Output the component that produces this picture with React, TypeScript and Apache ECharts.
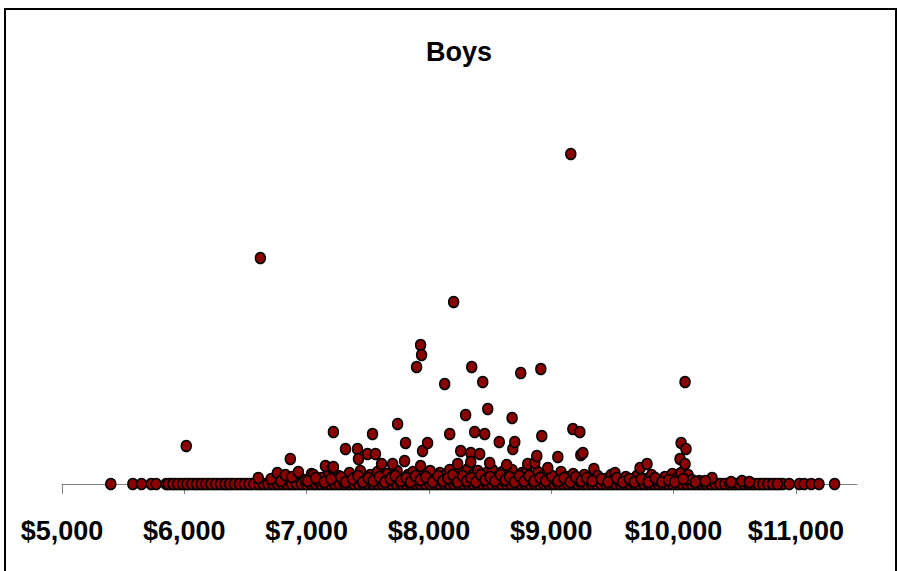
import React, { useEffect, useRef } from "react";
import * as echarts from "echarts";

const title = "Boys";
const xTicks = [5000, 6000, 7000, 8000, 9000, 10000, 11000];

// Points lying on the baseline (value 0)
const baselineX = [
  5399, 5579, 5650, 5729, 5770, 5852, 5890, 5925, 5968, 6004, 6041, 6083, 6120, 6158, 6196, 6240,
  6275, 6318, 6352, 6390, 6433, 6470, 6512, 6548, 6590, 6627, 6665, 6704, 6745, 6782, 6820, 6861,
  6898, 6940, 6977, 7015, 7056, 7093, 7135, 7172, 7210, 7250, 7288, 7330, 7366, 7405, 7445, 7483,
  7522, 7560, 7601, 7640, 7677, 7718, 7755, 7796, 7834, 7873, 7912, 7950, 7990, 8028, 8068, 8105,
  8146, 8184, 8223, 8262, 8300, 8340, 8378, 8418, 8456, 8495, 8535, 8573, 8612, 8650, 8690, 8728,
  8767, 8806, 8845, 8884, 8922, 8962, 9000, 9040, 9078, 9117, 9156, 9195, 9234, 9272, 9312, 9350,
  9390, 9428, 9467, 9506, 9545, 9584, 9622, 9662, 9700, 9740, 9778, 9817, 9856, 9895, 9934, 9972,
  10012, 10050, 10090, 10128, 10168, 10206, 10245, 10284, 10322, 10362, 10400, 10440, 10478, 10517,
  10556, 10595, 10634, 10672, 10712, 10750, 10790, 10830, 10868, 10894, 10946, 11028, 11069, 11126,
  11189, 11317,
];

// More baseline points filling the dense band
const baselineX2 = [
  5870, 5908, 5946, 5986, 6022, 6062, 6101, 6139, 6177, 6218, 6257, 6296, 6335, 6371, 6411, 6451,
  6491, 6530, 6569, 6608, 6646, 6685, 6724, 6763, 6801, 6840, 6879, 6918, 6958, 6996, 7035, 7074,
  7114, 7153, 7191, 7230, 7269, 7309, 7348, 7386, 7425, 7464, 7503, 7541, 7580, 7620, 7658, 7697,
  7736, 7775, 7815, 7853, 7892, 7931, 7970, 8009, 8048, 8086, 8125, 8165, 8203, 8242, 8281, 8320,
  8359, 8398, 8437, 8475, 8515, 8554, 8592, 8631, 8670, 8709, 8747, 8786, 8825, 8864, 8903, 8942,
  8981, 9020, 9059, 9097, 9136, 9175, 9214, 9253, 9291, 9331, 9370, 9409, 9447, 9486, 9525, 9564,
  9603, 9642, 9681, 9720, 9759, 9797, 9836, 9875, 9914, 9953, 9992, 10031, 10070, 10109, 10148,
  10187, 10226, 10264, 10303, 10342, 10381, 10420, 10459, 10497, 10536, 10575, 10614, 10653, 10692,
  10731, 10770, 10810, 10849,
];

// Points just above the baseline
const lowPoints: [number, number][] = [
  [6605, 6], [6710, 5], [6761, 11], [6790, 3], [6826, 9], [6880, 7], [6933, 12], [6990, 4],
  [7040, 10], [7056, 9], [7088, 4], [7120, 6], [7180, 12], [7260, 8], [7300, 4], [7350, 11],
  [7390, 6], [7440, 13], [7470, 3], [7520, 9], [7580, 12], [7620, 5], [7660, 10], [7700, 7],
  [7740, 13], [7790, 4], [7830, 9], [7870, 12], [7905, 6], [7960, 10], [8010, 13], [8050, 5],
  [8090, 11], [8130, 8], [8170, 14], [8210, 4], [8250, 12], [8290, 7], [8320, 15], [8360, 9],
  [8400, 13], [8440, 5], [8470, 11], [8520, 14], [8560, 7], [8600, 12], [8640, 9], [8680, 14],
  [8720, 5], [8760, 11], [8800, 13], [8840, 6], [8890, 12], [8930, 8], [8980, 10], [9030, 5],
  [9080, 12], [9130, 7], [9180, 10], [9220, 4], [9270, 9], [9310, 6], [9349, 15], [9380, 8],
  [9440, 5], [9490, 9], [9521, 11], [9560, 4], [9610, 7], [9660, 3], [9700, 8], [9760, 5],
  [9820, 9], [9870, 4], [9930, 7], [9990, 10], [10030, 6], [10061, 11], [10119, 9], [10150, 4],
  [10210, 3], [10315, 6], [10471, 2], [10560, 3], [10620, 2],
  [7010, 3], [7075, 6], [7145, 2], [7200, 5], [7280, 7], [7320, 2], [7375, 5], [7420, 8],
  [7460, 2], [7505, 6], [7545, 3], [7595, 7], [7640, 2], [7685, 5], [7725, 8], [7770, 3],
  [7815, 6], [7850, 2], [7890, 8], [7930, 4], [7975, 7], [8030, 2], [8075, 8], [8115, 3],
  [8155, 6], [8195, 9], [8235, 2], [8275, 8], [8310, 3], [8345, 6], [8385, 2], [8425, 9],
  [8460, 4], [8500, 7], [8540, 3], [8585, 9], [8625, 4], [8660, 7], [8700, 2], [8740, 8],
  [8780, 3], [8820, 8], [8860, 3], [8910, 6], [8955, 3], [9005, 8], [9055, 3], [9105, 6],
  [9155, 2], [9200, 7], [9245, 3], [9290, 6], [9335, 3], [9410, 5], [9465, 2], [9535, 6],
  [9585, 2], [9640, 5], [9680, 2], [9735, 5], [9795, 2], [9850, 6], [9905, 2], [9960, 4],
  [10010, 2], [10080, 5], [10180, 2], [10260, 3],
];

// Points higher up
const highPoints: [number, number][] = [
  [6016, 38], [6867, 25], [7154, 18], [7211, 16], [7219, 52], [7219, 17], [7318, 35], [7416, 35],
  [7424, 25], [7498, 30], [7539, 50], [7563, 30], [7613, 20], [7703, 20], [7744, 60], [7801, 23],
  [7809, 41], [7932, 18], [7948, 33], [7989, 41], [8170, 50], [8235, 20], [8260, 33], [8300, 69],
  [8342, 31], [8342, 22], [8374, 52], [8415, 30], [8456, 50], [8481, 75], [8497, 21], [8575, 42],
  [8636, 19], [8680, 66], [8686, 35], [8702, 42], [8808, 20], [8866, 21], [8882, 28], [8923, 48],
  [8972, 16], [9054, 27], [9177, 55], [9234, 52], [9242, 29], [9259, 31], [9726, 16], [9783, 20],
  [10053, 25], [10062, 41], [10094, 20], [10102, 35],
  [7899, 117], [7932, 139], [7940, 129], [8129, 100], [8202, 182], [8350, 117], [8440, 102],
  [8751, 111], [8915, 115], [9160, 330], [6622, 226], [10094, 102],
];

export default function App() {
  const ref = useRef<HTMLDivElement>(null);
  useEffect(() => {
    if (!ref.current) return;
    const chart = echarts.init(ref.current, undefined, { renderer: "svg" });
    const data: [number, number][] = [
      ...baselineX.map((x) => [x, 0] as [number, number]),
      ...baselineX2.map((x) => [x, 0] as [number, number]),
      ...lowPoints,
      ...highPoints,
    ];
    chart.setOption({
      animation: false,
      grid: { left: 62, right: 42, top: 84, bottom: 87, containLabel: false },
      xAxis: {
        type: "value",
        min: 5000,
        max: 11500,
        interval: 1000,
        splitLine: { show: false },
        axisLine: { show: true, onZero: false, lineStyle: { color: "#808080", width: 1 } },
        axisTick: {
          show: true,
          length: 10,
          customValues: xTicks,
          lineStyle: { color: "#808080", width: 1 },
        },
        axisLabel: {
          customValues: xTicks,
          margin: 33,
          color: "#000",
          fontSize: 27,
          fontWeight: "bold",
          fontFamily: "Liberation Sans, Arial, sans-serif",
          formatter: (v: number) => "$" + v.toLocaleString("en-US"),
        },
      },
      yAxis: {
        type: "value",
        min: 0,
        max: 400,
        show: false,
        splitLine: { show: false },
      },
      graphic: [
        {
          type: "rect",
          shape: { x: 5, y: 9, width: 891, height: 620 },
          style: { fill: "none", stroke: "#000", lineWidth: 2 },
          silent: true,
        },
        {
          type: "text",
          x: 459,
          y: 52,
          style: {
            text: title,
            font: "bold 27px 'Liberation Sans', Arial, sans-serif",
            fill: "#000",
            textAlign: "center",
            textVerticalAlign: "middle",
          },
        },
      ],
      series: [
        {
          type: "scatter",
          data,
          symbol: "circle",
          symbolSize: [10, 11],
          itemStyle: { color: "#8B0000", borderColor: "#000", borderWidth: 1.5, opacity: 1 },
        },
      ],
    });
    return () => chart.dispose();
  }, []);
  return (
    <div
      ref={ref}
      style={{ position: "fixed", left: 0, top: 0, width: 899, height: 571, background: "#fff" }}
    />
  );
}
